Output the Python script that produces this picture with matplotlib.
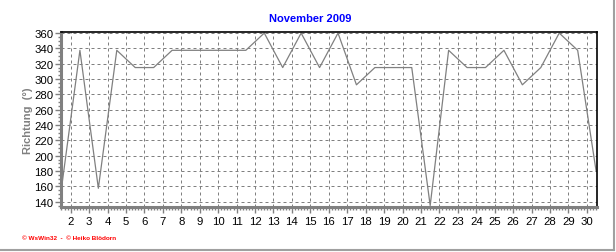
import numpy as np
import matplotlib
matplotlib.use('Agg')
import matplotlib.pyplot as plt
from matplotlib.ticker import MultipleLocator
from matplotlib.lines import Line2D

plt.rcParams['font.family'] = ['Liberation Sans', 'DejaVu Sans']

# Tageswerte Windrichtung November 2009 (Grad)
days = list(range(1, 31))
richtung = [157.5, 337.5, 157.5, 337.5, 315, 315, 337.5, 337.5, 337.5, 337.5,
            337.5, 360, 315, 360, 315, 360, 292.5, 315, 315, 315,
            135, 337.5, 315, 315, 337.5, 292.5, 315, 360, 337.5, 180]
day_labels = [str(d) for d in range(2, 31)]

fig = plt.figure(figsize=(6.16, 2.53), dpi=100)
ax = fig.add_axes([0.0998, 0.1767, 0.8694, 0.6917])

x = np.array(days) + 0.5
ax.plot(x, richtung, color='#808080', lw=0.9)

ax.set_xlim(1.5, 30.55)
ax.set_ylim(132.7, 361)
ax.set_xticks(range(2, 31))
ax.set_xticklabels(day_labels)
ax.xaxis.set_minor_locator(MultipleLocator(1 / 6))
ax.yaxis.set_minor_locator(MultipleLocator(5))
ax.set_yticks(np.arange(140, 361, 20))

ax.grid(True, which='major', color='#808080', lw=0.72, linestyle=(0, (3, 3)))
ax.tick_params(which='major', direction='out', length=4, width=1, color='#808080',
               labelsize=8.2, pad=2)
ax.tick_params(which='minor', direction='out', length=2, width=1, color='#808080')

for s in ['left', 'bottom']:
    ax.spines[s].set_color('#808080')
    ax.spines[s].set_linewidth(2.2)
for s in ['top', 'right']:
    ax.spines[s].set_color('black')
    ax.spines[s].set_linewidth(1.2)

ax.set_ylabel('Richtung  (°)', color='#808080', fontsize=8, fontweight='bold', labelpad=1)
fig.text(0.503, 0.925, 'November 2009', color='#0000ff', fontsize=8, fontweight='bold',
         ha='center', va='center')
fig.text(0.035, 0.059, '© WsWin32  -  © Heiko Blödorn', color='#ff0000', fontsize=4.6,
         fontweight='bold', ha='left', va='center')

# Rahmen rechts und unten
fig.add_artist(Line2D([0.997, 0.997], [0.008, 1.0], transform=fig.transFigure,
                      color='#a0a0a0', lw=1.5))
fig.add_artist(Line2D([0.0, 0.997], [0.008, 0.008], transform=fig.transFigure,
                      color='#a0a0a0', lw=1.5))

fig.savefig('out.png', dpi=100)
